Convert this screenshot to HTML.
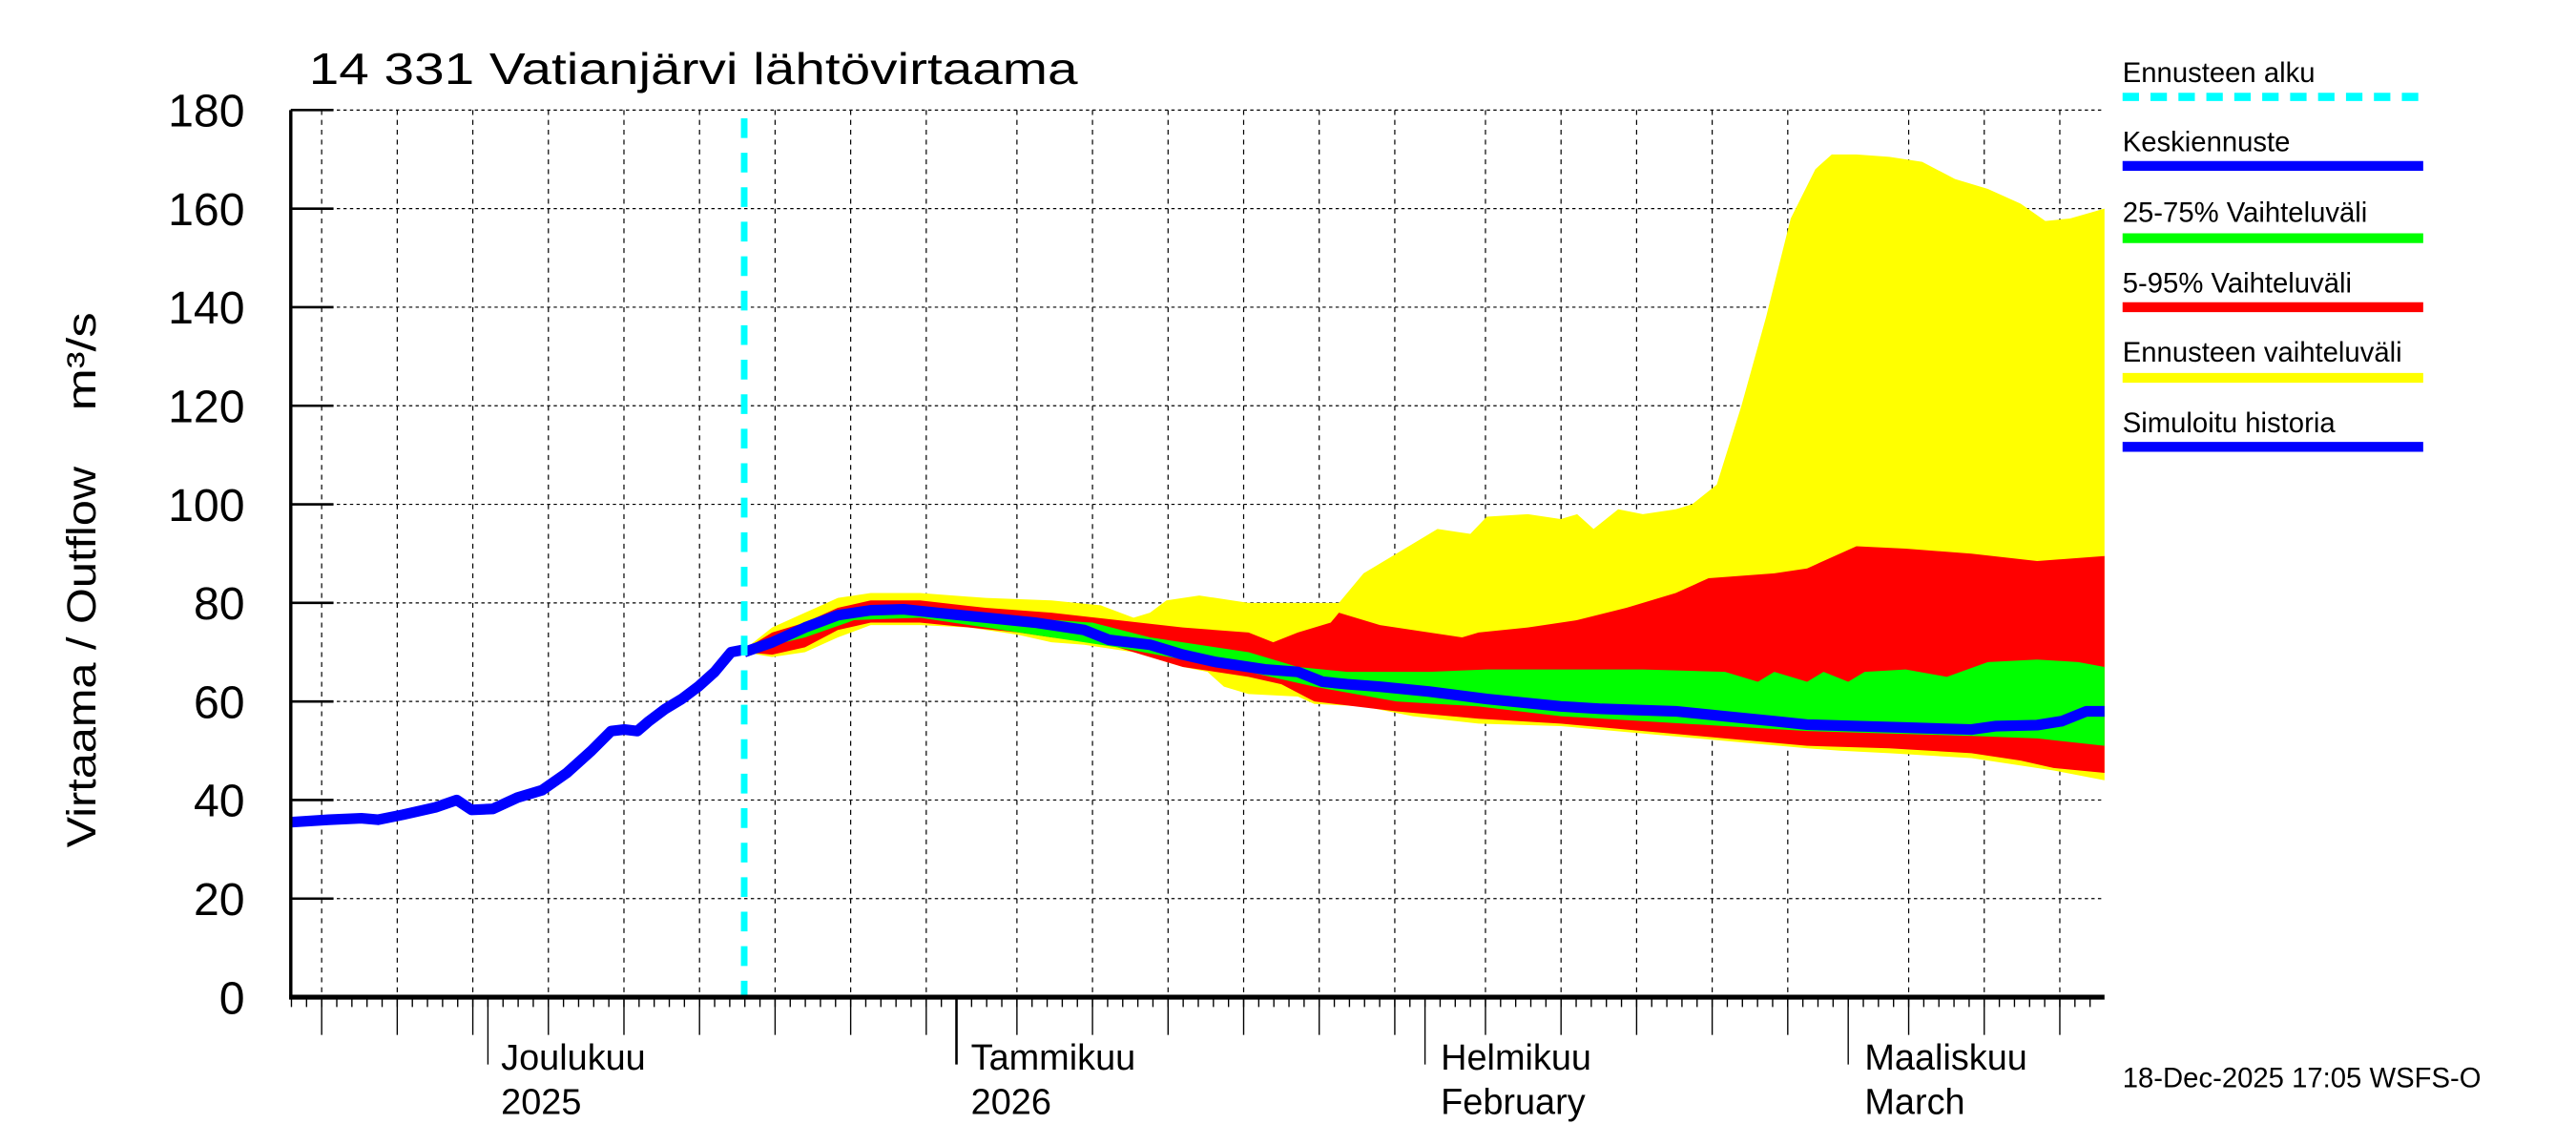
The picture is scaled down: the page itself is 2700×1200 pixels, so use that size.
<!DOCTYPE html>
<html><head><meta charset="utf-8"><style>
html,body{margin:0;padding:0;background:#fff;}
svg{display:block;}
text{font-family:"Liberation Sans",sans-serif;fill:#000;}
</style></head><body>
<svg id="s" width="2700" height="1200" viewBox="0 0 1568 697" preserveAspectRatio="none" xmlns="http://www.w3.org/2000/svg">
<g id="plot"></g>
<text x="188" y="51" font-size="27" textLength="468" lengthAdjust="spacingAndGlyphs">14 331 Vatianjärvi lähtövirtaama</text>
<text transform="translate(58,516) rotate(-90)" font-size="25" textLength="232" lengthAdjust="spacingAndGlyphs">Virtaama / Outflow</text>
<text transform="translate(58,250) rotate(-90)" font-size="25" textLength="60" lengthAdjust="spacingAndGlyphs">m³/s</text>
<g font-size="17">
<text x="1292" y="50">Ennusteen alku</text>
<text x="1292" y="92">Keskiennuste</text>
<text x="1292" y="135">25-75% Vaihteluväli</text>
<text x="1292" y="178">5-95% Vaihteluväli</text>
<text x="1292" y="220">Ennusteen vaihteluväli</text>
<text x="1292" y="263">Simuloitu historia</text>
<text x="1292" y="662">18-Dec-2025 17:05 WSFS-O</text>
</g>
<line x1="1292" y1="59" x2="1475" y2="59" stroke="#00ffff" stroke-width="5" stroke-dasharray="10,7"/>
<line x1="1292" y1="101" x2="1475" y2="101" stroke="#0000ff" stroke-width="6"/>
<line x1="1292" y1="145" x2="1475" y2="145" stroke="#00ff00" stroke-width="6"/>
<line x1="1292" y1="187" x2="1475" y2="187" stroke="#ff0000" stroke-width="6"/>
<line x1="1292" y1="230" x2="1475" y2="230" stroke="#ffff00" stroke-width="6"/>
<line x1="1292" y1="272" x2="1475" y2="272" stroke="#0000ff" stroke-width="6"/>
<g font-size="22">
<text x="305" y="651">Joulukuu</text><text x="305" y="678">2025</text>
<text x="591" y="651">Tammikuu</text><text x="591" y="678">2026</text>
<text x="877" y="651">Helmikuu</text><text x="877" y="678">February</text>
<text x="1135" y="651">Maaliskuu</text><text x="1135" y="678">March</text>
</g>
</svg>
<script>
const Y=v=>607-3*v;
const yel=[[453,70.5],[470,75],[490,78],[510,81],[530,82],[560,82],[600,81],[640,80.5],[670,79.5],[690,77],[700,78],[710,80.5],[730,81.5],[760,80],[800,80],[815,80],[830,86],[850,90],[875,95],[895,94],[905,97.5],[930,98],[950,97],[960,98],[970,95],[985,99],[1000,98],[1020,99],[1030,100],[1045,104],[1060,120],[1075,138],[1090,158],[1105,168],[1115,171],[1130,171],[1150,170.5],[1170,169.5],[1190,166],[1210,164],[1230,161],[1245,157.5],[1260,158],[1281,160],
[1281,44],[1250,46],[1200,48.5],[1150,49.5],[1120,50],[1100,50.5],[1050,52],[1000,53.5],[950,55],[900,55.5],[860,57],[830,59],[800,59.5],[790,61],[760,61.5],[745,63],[735,66],[720,67],[690,70],[660,71.5],[640,72],[620,73.5],[590,75],[560,75.5],[530,75.5],[510,73],[490,70],[470,69],[453,70]];
const red=[[453,70.5],[470,74],[490,76],[510,79],[530,80.5],[560,80.5],[600,79],[640,78],[680,76.5],[720,75],[760,74],[775,72],[790,74],[810,76],[815,78],[840,75.5],[870,74],[890,73],[900,74],[930,75],[960,76.5],[990,79],[1020,82],[1040,85],[1080,86],[1100,87],[1130,91.5],[1160,91],[1200,90],[1240,88.5],[1281,89.5],
[1281,45.5],[1250,46.5],[1230,48],[1200,49.5],[1150,50.5],[1100,51],[1050,52.5],[1000,54],[950,55.5],[900,56.5],[850,58],[800,60],[780,63.5],[760,65],[720,67],[700,69],[670,72],[640,73],[620,74],[590,75],[560,76],[530,76],[510,74.5],[490,71],[470,69.5],[453,70]];
const grn=[[453,70.5],[510,78],[550,79.5],[620,77],[665,76],[700,73],[760,70],[790,67],[820,66],[870,66],[905,66.5],[1000,66.5],[1050,66],[1070,64],[1080,66],[1100,64],[1110,66],[1125,64],[1135,66],[1160,66.5],[1185,65],[1210,68],[1240,68.5],[1265,68],[1281,67],
[1281,51],[1240,52.5],[1200,53],[1150,53.5],[1100,54],[1050,55],[1000,56],[950,57],[900,59],[850,60],[800,63],[760,66],[720,68.5],[680,71],[640,73],[600,75],[560,77],[520,76.5],[490,73],[453,70]];
const med=[[453,70],[470,72],[490,75],[510,77.5],[530,78.5],[550,78.7],[570,78],[600,77],[630,76],[660,74.5],[675,72.5],[700,71.5],[720,69.5],[740,68],[770,66.5],[790,66],[805,64],[820,63.5],[840,63],[870,62],[905,60.5],[950,59],[975,58.5],[1020,58],[1050,57],[1080,56],[1100,55.3],[1130,55],[1160,54.7],[1200,54.3],[1215,55],[1240,55.2],[1255,56],[1270,58],[1281,58]];
const his=[[177,35.5],[200,36],[220,36.3],[230,36],[245,37],[265,38.5],[278,40],[287,38],[300,38.2],[315,40.5],[330,42],[345,45.5],[360,50],[372,54],[380,54.3],[388,54],[395,56],[405,58.5],[415,60.5],[425,63],[435,66],[445,70],[453,70.5]];
const P=a=>a.map(p=>p[0]+','+Y(p[1])).join(' ');
let h='';
for(let v=20;v<=180;v+=20)h+=`<line x1="177" y1="${Y(v)}" x2="1281" y2="${Y(v)}" stroke="#000" stroke-width="0.7" stroke-dasharray="2,2"/>`;
const xd=d=>297+9.2*d;
const grid=[-11,-6,-1,4,9,14,19,24,29,35,40,45,50,55,60,66,71,76,81,86,94,99,104];
grid.forEach(d=>{const x=xd(d);h+=`<line x1="${x}" y1="67" x2="${x}" y2="607" stroke="#000" stroke-width="0.7" stroke-dasharray="3,3"/><line x1="${x}" y1="607" x2="${x}" y2="630" stroke="#000" stroke-width="0.8"/>`;});
h+=`<polygon points="${P(yel)}" fill="#ffff00"/><polygon points="${P(red)}" fill="#ff0000"/><polygon points="${P(grn)}" fill="#00ff00"/>`;
h+=`<polyline points="${P(med)}" fill="none" stroke="#0000ff" stroke-width="6.5" stroke-linejoin="round"/>`;
h+=`<polyline points="${P(his)}" fill="none" stroke="#0000ff" stroke-width="6.5" stroke-linejoin="round"/>`;
h+=`<line x1="453" y1="72" x2="453" y2="607" stroke="#00ffff" stroke-width="4" stroke-dasharray="12,9"/>`;
for(let d=-13;d<=107;d++){const x=xd(d);if(x<177||x>1281)continue;h+=`<line x1="${x}" y1="607" x2="${x}" y2="613" stroke="#000" stroke-width="0.8"/>`;}
[0,31,62,90].forEach(d=>{const x=xd(d);h+=`<line x1="${x}" y1="607" x2="${x}" y2="648" stroke="#000" stroke-width="${d==31?1.5:0.8}"/>`;});
for(let v=0;v<=180;v+=20){h+=`<line x1="177" y1="${Y(v)}" x2="203" y2="${Y(v)}" stroke="#000" stroke-width="1.5"/><text x="149" y="${Y(v)+10}" font-size="28" text-anchor="end">${v}</text>`;}
h+=`<line x1="177" y1="67" x2="177" y2="608" stroke="#000" stroke-width="2"/><line x1="176" y1="607" x2="1281" y2="607" stroke="#000" stroke-width="3"/>`;
document.getElementById('plot').innerHTML=h;
</script>
</body></html>
